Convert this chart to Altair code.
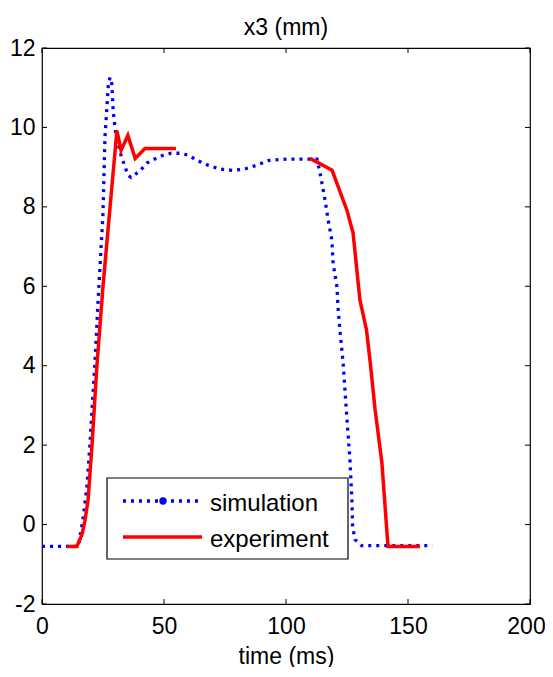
import altair as alt
import pandas as pd

# ---- data ----
sim_t = [0, 15, 15.6, 16.8, 18.4, 19.7, 20.5, 21.7, 23, 25, 25.8, 26.6, 27.2, 27.9,
         28.6, 29.2, 30.3, 32.4, 35.2, 36.5, 40, 43, 46, 49.6, 53, 56.6, 60, 63.5,
         68, 73, 78, 83, 88, 93, 100, 106, 112.7, 114, 116, 117.3, 118.8, 119.3,
         120.9, 121.3, 122.1, 123.4, 125, 126.2, 127, 127.3, 128.3, 131, 160]
sim_v = [-0.55, -0.55, -0.3, 0.13, 0.95, 2.06, 2.9, 4.07, 5.65, 7.84, 9.75, 10.5, 11.1, 11.26,
         11.1, 10.4, 9.8, 9.3, 8.8, 8.74, 8.9, 9.1, 9.2, 9.3, 9.35, 9.35, 9.3, 9.17,
         9.05, 8.95, 8.92, 8.95, 9.05, 9.17, 9.2, 9.2, 9.2, 8.84, 8.17, 7.66, 7.16, 6.58,
         5.98, 5.48, 4.9, 4.07, 2.64, 1.63, 0.63, -0.05, -0.38, -0.53, -0.53]

exp_t1 = [10.2, 14.3, 16.4, 17.6, 18.9, 20.5, 22.5, 25, 27.9, 30.7, 32.4, 35.2, 38.2, 42.2, 54.9]
exp_v1 = [-0.55, -0.55, -0.25, 0.1, 0.63, 2, 4, 6, 8, 9.92, 9.42, 9.8, 9.22, 9.47, 9.47]
exp_t2 = [109.8, 118.9, 125, 127.5, 130.3, 133, 134.4, 136.5, 139.3, 141.8, 154.9]
exp_v2 = [9.22, 8.92, 7.91, 7.34, 5.65, 4.9, 4.15, 2.9, 1.56, -0.55, -0.55]

x_ticks = [0, 50, 100, 150, 200]
y_ticks = [-2, 0, 2, 4, 6, 8, 10, 12]
legend_labels = ["simulation", "experiment"]

FONT = "Liberation Sans"
FS = 23
LFS = 24
W, H = 488, 556

sim_df = pd.DataFrame({"t": sim_t, "v": sim_v})
exp_df = pd.concat([
    pd.DataFrame({"t": exp_t1, "v": exp_v1, "seg": "a"}),
    pd.DataFrame({"t": exp_t2, "v": exp_v2, "seg": "b"}),
])
xt_df = pd.DataFrame({"t": x_ticks})
yt_df = pd.DataFrame({"v": y_ticks})
one = pd.DataFrame({"k": [0]})

xs = alt.Scale(domain=[0, 200], nice=False, zero=False)
ys = alt.Scale(domain=[-2, 12], nice=False, zero=False)

sim = alt.Chart(sim_df).mark_line(
    color="#0000ff", strokeWidth=3.3, strokeDash=[3, 5], strokeCap="butt"
).encode(
    x=alt.X("t:Q", scale=xs, axis=alt.Axis(
        values=x_ticks, title="time (ms)", labelPadding=11, titlePadding=7,
        labelFlush=False, labelExpr="datum.value + ''",
        labelOffset={"condition": {"test": "datum.value == 200", "value": -4}, "value": 0})),
    y=alt.Y("v:Q", scale=ys, axis=alt.Axis(values=y_ticks, title=None,
                                           labelPadding=7, labelFlush=False,
                                           labelExpr="datum.value + ''")),
)

exp = alt.Chart(exp_df).mark_line(color="#ff0000", strokeWidth=3.5).encode(
    x=alt.X("t:Q", scale=xs), y=alt.Y("v:Q", scale=ys), detail="seg:N"
)

tick_len = 5
xb = alt.Chart(xt_df).mark_rule(color="black", strokeWidth=1).encode(
    x=alt.X("t:Q", scale=xs), y=alt.value(H), y2=alt.value(H - tick_len))
xtop = alt.Chart(xt_df).mark_rule(color="black", strokeWidth=1).encode(
    x=alt.X("t:Q", scale=xs), y=alt.value(0), y2=alt.value(tick_len))
yl = alt.Chart(yt_df).mark_rule(color="black", strokeWidth=1).encode(
    y=alt.Y("v:Q", scale=ys), x=alt.value(0), x2=alt.value(tick_len))
yr = alt.Chart(yt_df).mark_rule(color="black", strokeWidth=1).encode(
    y=alt.Y("v:Q", scale=ys), x=alt.value(W), x2=alt.value(W - tick_len))

# ---- legend box ----
lx0, lx1, ly0, ly1 = 65, 306, 430, 511
box = alt.Chart(one).mark_rect(fill="white", stroke="black", strokeWidth=1.2).encode(
    x=alt.value(lx0), x2=alt.value(lx1), y=alt.value(ly0), y2=alt.value(ly1))
leg_sim = alt.Chart(one).mark_rule(color="#0000ff", strokeWidth=3.3, strokeDash=[3, 5],
                                   strokeCap="butt").encode(
    x=alt.value(81), x2=alt.value(160), y=alt.value(453))
leg_dot = alt.Chart(one).mark_point(filled=True, color="#0000ff", size=55, opacity=1).encode(
    x=alt.value(121), y=alt.value(453))
leg_exp = alt.Chart(one).mark_rule(color="#ff0000", strokeWidth=3.5).encode(
    x=alt.value(81), x2=alt.value(160), y=alt.value(489))
leg_txt1 = alt.Chart(one).mark_text(align="left", baseline="alphabetic", font=FONT,
                                    fontSize=LFS, color="black", text=legend_labels[0]).encode(
    x=alt.value(168), y=alt.value(463))
leg_txt2 = alt.Chart(one).mark_text(align="left", baseline="alphabetic", font=FONT,
                                    fontSize=LFS, color="black", text=legend_labels[1]).encode(
    x=alt.value(168), y=alt.value(499))

chart = alt.layer(
    sim, exp, xb, xtop, yl, yr, box, leg_sim, leg_dot, leg_exp, leg_txt1, leg_txt2
).properties(
    width=W, height=H,
    autosize=alt.AutoSizeParams(type="none"),
    padding={"left": 34, "top": 40, "right": 15, "bottom": 63},
    title=alt.TitleParams("x3 (mm)", font=FONT, fontSize=FS, fontWeight="normal",
                          color="black", offset=-3),
).configure_view(
    stroke="black", strokeWidth=1.2
).configure_axis(
    domain=False, ticks=False, tickSize=0, grid=False,
    labelFont=FONT, labelFontSize=FS, labelColor="black",
    titleFont=FONT, titleFontSize=FS, titleFontWeight="normal", titleColor="black",
)

chart.save("out.html", embed_options={"renderer": "svg", "actions": False})
